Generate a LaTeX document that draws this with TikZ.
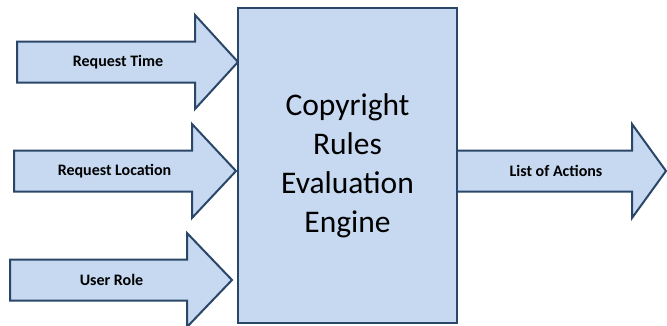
\documentclass[tikz,border=0pt]{standalone}
\usepackage{fontspec}
\setmainfont{Carlito}
\usetikzlibrary{positioning}

\definecolor{blockfill}{HTML}{C6D9F1}
\definecolor{blockline}{HTML}{2A4668}

\tikzset{
  engine/.style={draw=blockline, fill=blockfill, line width=2pt,
    minimum width=219pt, minimum height=315pt, inner sep=0pt,
    align=center, font=\fontsize{31.5}{39}\selectfont},
  flow/.style={draw=blockline, fill=blockfill, line width=2pt, line join=miter},
  flowlabel/.style={inner sep=0pt, font=\bfseries\fontsize{16}{18}\selectfont},
}

\begin{document}
\begin{tikzpicture}[x=1pt,y=1pt]
  \useasboundingbox (0,0) rectangle (667,325);

  % inputs
  \draw[flow] (17,283.5) -- (195,283.5) -- (195,310) -- (238,263)
              -- (195,216) -- (195,242.5) -- (17,242.5) -- cycle;
  \draw[flow] (14,174.5) -- (192,174.5) -- (192,201) -- (236,154)
              -- (192,107) -- (192,133.5) -- (14,133.5) -- cycle;
  \draw[flow] (10,65.5) -- (187,65.5) -- (187,92) -- (232,45)
              -- (187,-2) -- (187,24.5) -- (10,24.5) -- cycle;

  % output
  \draw[flow] (455,174.5) -- (632,174.5) -- (632,201) -- (666,154)
              -- (632,107) -- (632,133.5) -- (455,133.5) -- cycle;

  \node[engine] (engine) at (347.5,159.5) {Copyright\\Rules\\Evaluation\\Engine};

  \node[flowlabel] (time) at (118,263) {Request Time};
  \node[flowlabel] (location) at (114.5,154) {Request Location};
  \node[flowlabel] (role) at (111.5,45) {User Role};
  \node[flowlabel] (actions) at (556,154) {List of Actions};
\end{tikzpicture}
\end{document}
